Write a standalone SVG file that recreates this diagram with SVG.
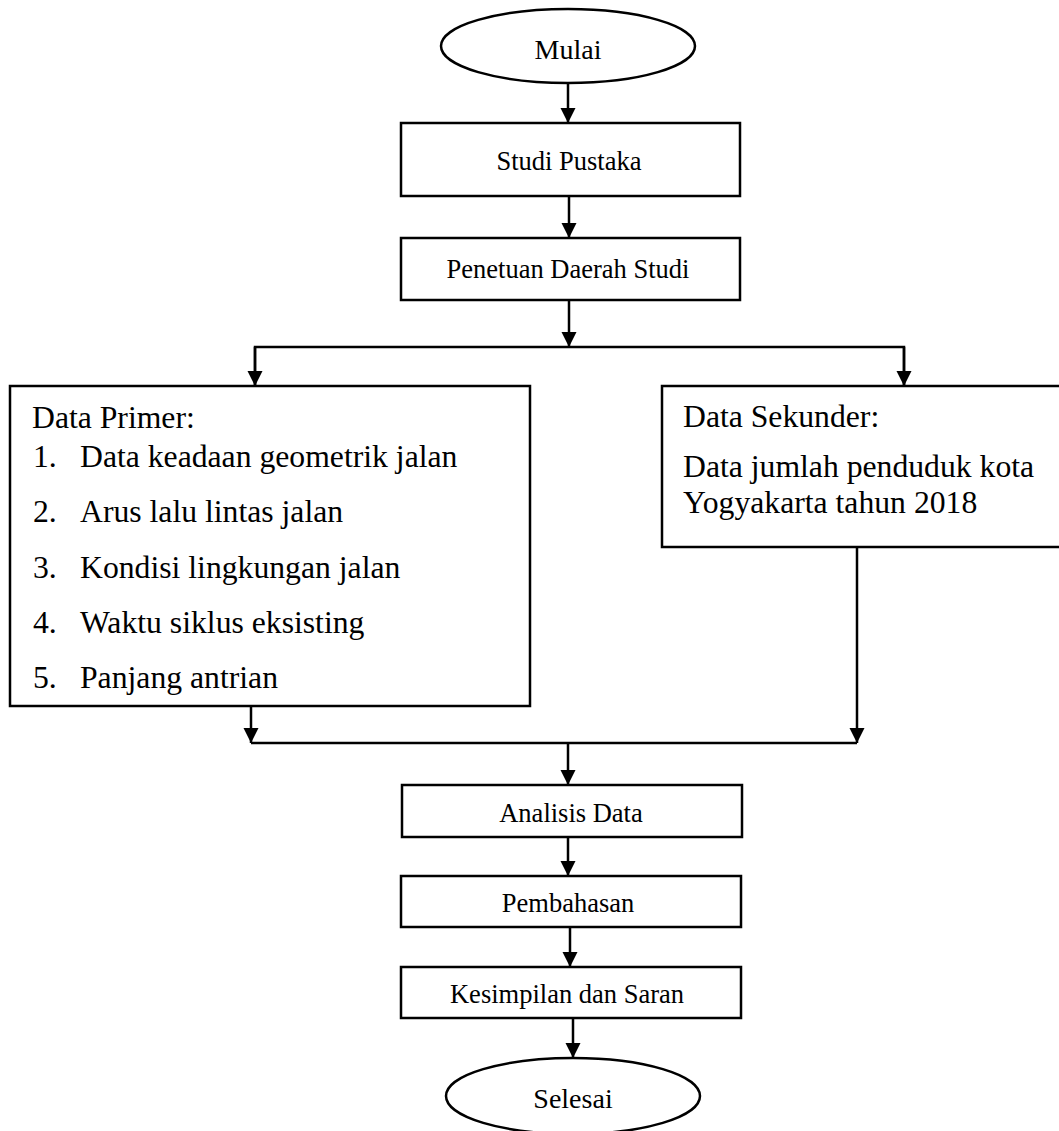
<svg xmlns="http://www.w3.org/2000/svg" width="1059" height="1131" viewBox="0 0 1059 1131">
<style>
.shape{fill:#fff;stroke:#000;stroke-width:2.5}
.conn{fill:none;stroke:#000;stroke-width:2.5}
.lbl{font-family:"Liberation Serif","Times New Roman",serif;font-size:26.5px;fill:#000;text-anchor:middle}
.term{font-family:"Liberation Serif","Times New Roman",serif;font-size:28px;fill:#000;text-anchor:middle}
.big{font-family:"Liberation Serif","Times New Roman",serif;font-size:31.7px;fill:#000}
</style>
<defs>
<marker id="arr" markerUnits="userSpaceOnUse" markerWidth="16" markerHeight="16" refX="15" refY="7.5" orient="auto">
<path d="M0,0 L15,7.5 L0,15 z" fill="#000"/>
</marker>
</defs>
<rect width="1059" height="1131" fill="#fff"/>
<g id="connectors">
<line class="conn" x1="568" y1="83" x2="568" y2="123" marker-end="url(#arr)"/>
<line class="conn" x1="569" y1="196" x2="569" y2="238" marker-end="url(#arr)"/>
<line class="conn" x1="569" y1="300" x2="569" y2="347" marker-end="url(#arr)"/>
<polyline class="conn" points="255,385 255,347 904,347 904,385"/>
<line class="conn" x1="255" y1="347" x2="255" y2="386" marker-end="url(#arr)"/>
<line class="conn" x1="904" y1="347" x2="904" y2="386" marker-end="url(#arr)"/>
<line class="conn" x1="251" y1="706" x2="251" y2="743" marker-end="url(#arr)"/>
<line class="conn" x1="857" y1="547" x2="857" y2="743" marker-end="url(#arr)"/>
<line class="conn" x1="251" y1="743" x2="857" y2="743"/>
<line class="conn" x1="568" y1="743" x2="568" y2="785" marker-end="url(#arr)"/>
<line class="conn" x1="568" y1="837" x2="568" y2="876" marker-end="url(#arr)"/>
<line class="conn" x1="570" y1="927" x2="570" y2="967" marker-end="url(#arr)"/>
<line class="conn" x1="573" y1="1018" x2="573" y2="1058" marker-end="url(#arr)"/>
</g>
<g id="mulai">
<ellipse class="shape" cx="568" cy="46" rx="127" ry="37"/>
<text class="term" x="568" y="59">Mulai</text>
</g>
<g id="studi-pustaka">
<rect class="shape" x="401" y="123" width="339" height="73"/>
<text class="lbl" x="569" y="170">Studi Pustaka</text>
</g>
<g id="penetuan">
<rect class="shape" x="401" y="238" width="339" height="62"/>
<text class="lbl" x="568" y="278">Penetuan Daerah Studi</text>
</g>
<g id="data-primer">
<rect class="shape" x="10" y="386" width="520" height="320"/>
<text class="big" x="32" y="428">Data Primer:</text>
<text class="big" x="33" y="467">1.</text><text class="big" x="80" y="467">Data keadaan geometrik jalan</text>
<text class="big" x="33" y="522">2.</text><text class="big" x="80" y="522">Arus lalu lintas jalan</text>
<text class="big" x="33" y="577.5">3.</text><text class="big" x="80" y="577.5">Kondisi lingkungan jalan</text>
<text class="big" x="33" y="633">4.</text><text class="big" x="80" y="633">Waktu siklus eksisting</text>
<text class="big" x="33" y="688">5.</text><text class="big" x="80" y="688">Panjang antrian</text>
</g>
<g id="data-sekunder">
<rect class="shape" x="662" y="386" width="420" height="161"/>
<text class="big" x="683" y="427">Data Sekunder:</text>
<text class="big" x="683" y="477">Data jumlah penduduk kota</text>
<text class="big" x="683" y="513">Yogyakarta tahun 2018</text>
</g>
<g id="analisis">
<rect class="shape" x="402" y="785" width="340" height="52"/>
<text class="lbl" x="571" y="822">Analisis Data</text>
</g>
<g id="pembahasan">
<rect class="shape" x="401" y="876" width="340" height="51"/>
<text class="lbl" x="568" y="912">Pembahasan</text>
</g>
<g id="kesimpulan">
<rect class="shape" x="401" y="967" width="340" height="51"/>
<text class="lbl" x="567" y="1003">Kesimpilan dan Saran</text>
</g>
<g id="selesai">
<ellipse class="shape" cx="573" cy="1096" rx="127" ry="38"/>
<text class="term" x="573" y="1108">Selesai</text>
</g>
</svg>
